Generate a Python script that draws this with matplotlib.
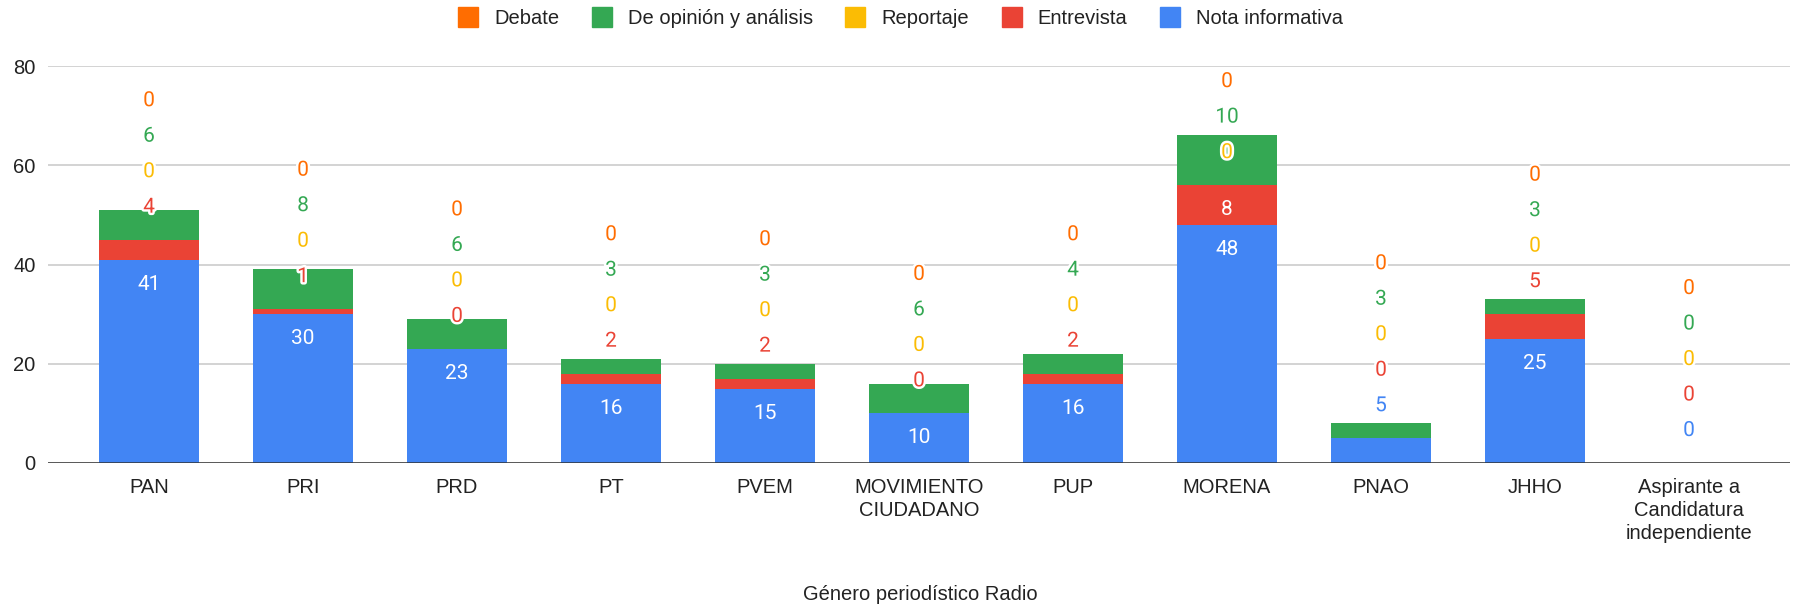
import numpy as np
import matplotlib.pyplot as plt
import matplotlib.patheffects as pe
from matplotlib.lines import Line2D

plt.rcParams['font.family'] = ['Liberation Sans', 'DejaVu Sans']

categories = ['PAN', 'PRI', 'PRD', 'PT', 'PVEM', 'MOVIMIENTO\nCIUDADANO', 'PUP',
              'MORENA', 'PNAO', 'JHHO', 'Aspirante a\nCandidatura\nindependiente']
nota = [41, 30, 23, 16, 15, 10, 16, 48, 5, 25, 0]
entrevista = [4, 1, 0, 2, 2, 0, 2, 8, 0, 5, 0]
reportaje = [0, 0, 0, 0, 0, 0, 0, 0, 0, 0, 0]
opinion = [6, 8, 6, 3, 3, 6, 4, 10, 3, 3, 0]
debate = [0, 0, 0, 0, 0, 0, 0, 0, 0, 0, 0]

series = [nota, entrevista, reportaje, opinion, debate]
names = ['Nota informativa', 'Entrevista', 'Reportaje', 'De opinión y análisis', 'Debate']
colors = ['#4285F4', '#EA4335', '#FBBC04', '#34A853', '#FF6D01']

W, H = 1794, 607
fig = plt.figure(figsize=(W / 100, H / 100), dpi=100)
ax = fig.add_axes([48 / W, 1 - 463 / H, (1790 - 48) / W, (463 - 66) / H])

x = np.arange(len(categories))
ax.set_xlim(-0.656, len(categories) - 1 + 0.656)
ax.set_ylim(0, 80)

bottom = np.zeros(len(categories))
for vals, c in zip(series, colors):
    ax.bar(x, vals, 0.65, bottom=bottom, color=c, linewidth=0, zorder=2)
    bottom += np.array(vals)

# data labels, stacked like the google chart does it
ppu = ax.transData.transform((0, 1))[1] - ax.transData.transform((0, 0))[1]
in_off, out_off, gap, fit = 22 / ppu, 35 / ppu, 35.5 / ppu, 38 / ppu
nudge = 2.5 / ppu
halo = [pe.withStroke(linewidth=3.5, foreground='white')]
for i in range(len(categories)):
    base = 0
    prev = None
    for vals, c in zip(series, colors):
        v = vals[i]
        top = base + v
        inside = v >= fit
        pos = top - in_off if inside else top + out_off
        if prev is not None and pos < prev + gap:
            pos = prev + gap
            inside = False
        if inside:
            ax.text(i, pos - nudge, str(v), color='white', ha='center', va='center',
                    fontsize=15, family='Roboto', zorder=4)
        else:
            ax.text(i, pos - nudge, str(v), color=c, ha='center', va='center',
                    fontsize=15, family='Roboto', zorder=4, path_effects=halo)
        prev = pos
        base = top

ax.set_yticks([0, 20, 40, 60, 80])
ax.grid(axis='y', color='#cccccc', linewidth=1.2, zorder=0)
ax.axhline(0, color='#333333', linewidth=1.8, zorder=3)
for s in ax.spines.values():
    s.set_visible(False)
ax.set_xticks(x)
ax.set_xticklabels(categories, fontsize=14.5, color='#222222', linespacing=1.25)
ax.tick_params(axis='x', length=0, pad=11)
ax.tick_params(axis='y', length=0, pad=9, labelsize=14.5, labelcolor='#222222')

fig.text(0.513, 1 - 595 / H, 'Género periodístico Radio', ha='center', va='center',
         fontsize=14.5, color='#222222')

handles = [Line2D([], [], marker='s', markersize=14, linestyle='none', color=c, label=n)
           for n, c in zip(names[::-1], colors[::-1])]
fig.legend(handles=handles, loc='center', bbox_to_anchor=(0.502, 1 - 19 / H), ncol=5,
           frameon=False, fontsize=14.5, handlelength=1.0, handletextpad=0.8,
           columnspacing=1.6, labelcolor='#222222')

fig.savefig('out.png', dpi=100)
